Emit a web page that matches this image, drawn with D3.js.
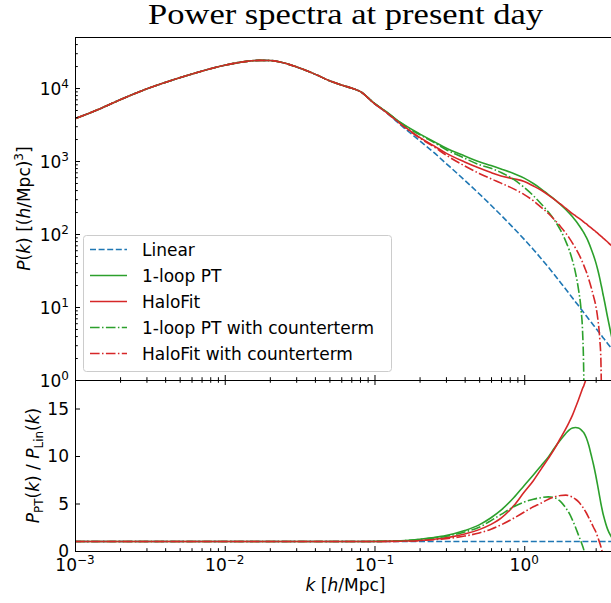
<!DOCTYPE html>
<html>
<head>
<meta charset="utf-8">
<script src="https://cdn.jsdelivr.net/npm/d3@7"></script>
<style>
  body { margin: 0; background: #fff; }
  svg { display: block; font-family: "DejaVu Sans", sans-serif; }
  text { white-space: pre; }
</style>
</head>
<body>
<svg id="drawing_region"></svg>
<script>
// wavenumbers k [h/Mpc]
const kGrid = [0.001, 0.0015, 0.002, 0.003, 0.004, 0.005, 0.007, 0.01, 0.014, 0.017,
    0.02, 0.025, 0.03, 0.04, 0.05, 0.06, 0.07, 0.08, 0.1, 0.12,
    0.15, 0.2, 0.25, 0.3, 0.4, 0.5, 0.6, 0.7, 0.85, 1.0,
    1.15, 1.3, 1.45, 1.6, 1.75, 1.9, 2.0, 2.1, 2.2, 2.3,
    2.4, 2.45, 2.5, 2.55, 2.6, 2.7, 2.8, 2.9, 3.0, 3.1,
    3.2, 3.25, 3.3, 3.35, 3.4, 3.6, 3.8, 4.0];

// linear power spectrum P(k) [(h/Mpc)^3]
const pLinear = [3800, 5300, 6900, 9700, 11900, 13800, 17000, 20500, 23200, 23900,
    23800, 22000, 19500, 15500, 12600, 11000, 10000, 9000, 6100, 4600,
    3100, 1900, 1300, 930, 546, 356, 248, 181, 120.4, 84.5,
    61.5, 45.9, 35.0, 27.2, 21.55, 17.36, 15.15, 13.3, 11.75, 10.45,
    9.33, 8.82, 8.36, 7.93, 7.54, 6.81, 6.18, 5.63, 5.15, 4.72,
    4.34, 4.16, 4.0, 3.83, 3.69, 3.17, 2.75, 2.39];

// P / P_lin for each nonlinear model
const ratioOneLoop = [1, 1, 1, 1, 1, 1, 1, 1, 1, 1,
    1, 1, 1, 1, 1, 1, 1, 1, 1.01, 1.03,
    1.08, 1.24, 1.42, 1.62, 2.15, 2.75, 3.5, 4.3, 5.6, 6.9,
    8.0, 9.0, 9.9, 10.9, 11.7, 12.4, 12.75, 12.95, 13.0, 12.95,
    12.75, 12.6, 12.45, 12.2, 11.9, 11.1, 10.1, 9.1, 8.0, 6.8,
    5.6, 5.0, 4.5, 4.0, 3.6, 2.3, 1.55, 1.1];

const ratioHaloFit = [1, 1, 1, 1, 1, 1, 1, 1, 1, 1,
    1, 1, 1, 1, 1, 1, 1, 1, 1.0, 1.01,
    1.04, 1.11, 1.24, 1.38, 1.78, 2.25, 2.8, 3.45, 4.75, 6.2,
    7.4, 8.65, 9.75, 10.8, 11.9, 12.9, 13.6, 14.3, 15.1, 15.9,
    16.7, 17.1, 17.4, 17.8, 18.2, 18.9, 19.6, 20.3, 21.0, 21.6,
    22.2, 22.5, 22.8, 23.1, 23.4, 24.5, 25.5, 26.4];

const ratioOneLoopCT = [1, 1, 1, 1, 1, 1, 1, 1, 1, 1,
    1, 1, 1, 1, 1, 1, 1, 1, 1.01, 1.02,
    1.07, 1.21, 1.38, 1.55, 2.0, 2.5, 3.2, 3.85, 4.65, 5.15,
    5.45, 5.62, 5.7, 5.6, 5.2, 4.5, 3.95, 3.25, 2.5, 1.7,
    0.95, 0.55, 0.12, -0.4, -1.0, -2.2, -3.5, -5.0, -6.5, -8.0,
    -10, -11, -12, -13, -14, -18, -22, -27];

const ratioHaloFitCT = [1, 1, 1, 1, 1, 1, 1, 1, 1, 1,
    1, 1, 1, 1, 1, 1, 1, 1, 1.0, 1.01,
    1.03, 1.09, 1.2, 1.3, 1.57, 1.9, 2.3, 2.75, 3.45, 4.1,
    4.65, 5.05, 5.45, 5.7, 5.85, 5.88, 5.8, 5.65, 5.45, 5.2,
    4.85, 4.65, 4.45, 4.22, 4.0, 3.5, 3.0, 2.5, 2.05, 1.45,
    0.8, 0.45, 0.05, -0.4, -0.9, -3, -5.5, -8];

const seriesNames = ["Linear", "1-loop PT", "HaloFit", "1-loop PT with counterterm", "HaloFit with counterterm"];
const xTickExps = [-3, -2, -1, 0];
const yTopTickExps = [0, 1, 2, 3, 4];
const yBottomTicks = [0, 5, 10, 15];

const styles = [
    { color: '#1f77b4', dash: '6,2.6' },
    { color: '#2ca02c', dash: null },
    { color: '#d62728', dash: null },
    { color: '#2ca02c', dash: '9.6,2.4,1.5,2.4' },
    { color: '#d62728', dash: '9.6,2.4,1.5,2.4' },
];

const config = { width: 611, height: 603, left: 75, right: 616, top: 37, mid: 380, bottom: 551 };

const svg = d3.select('#drawing_region')
    .attr('width', config.width)
    .attr('height', config.height);

const x = d3.scaleLog().domain([1e-3, 4.1]).range([config.left, config.right]);
const yTop = d3.scaleLog().domain([1, 5e4]).range([config.mid, config.top]);
const yBot = d3.scaleLinear().domain([0, 18]).range([config.bottom, config.mid]);

const ratios = [pLinear.map(p => p / p), ratioOneLoop, ratioHaloFit, ratioOneLoopCT, ratioHaloFitCT];
const series = seriesNames.map((name, s) => ({
    name: name,
    style: styles[s],
    points: kGrid.map((k, i) => ({ k: k, p: pLinear[i] * ratios[s][i], r: ratios[s][i] }))
}));

// clip regions
const defs = svg.append('defs');
defs.append('clipPath').attr('id', 'clipTop').append('rect')
    .attr('x', config.left).attr('y', config.top)
    .attr('width', config.right - config.left).attr('height', config.mid - config.top);
defs.append('clipPath').attr('id', 'clipBot').append('rect')
    .attr('x', config.left).attr('y', config.mid)
    .attr('width', config.right - config.left).attr('height', config.bottom - config.mid);

const lineTop = d3.line()
    .x(d => x(d.k))
    .y(d => yTop(Math.max(d.p, 1e-2)))
    .curve(d3.curveMonotoneX);
const lineBot = d3.line()
    .x(d => x(d.k))
    .y(d => yBot(d.r))
    .curve(d3.curveMonotoneX);

function drawLines(clip, line) {
    svg.append('g').attr('clip-path', `url(#${clip})`)
        .selectAll('path')
        .data(series)
        .enter()
        .append('path')
        .attr('d', d => line(d.points))
        .attr('fill', 'none')
        .attr('stroke', d => d.style.color)
        .attr('stroke-width', 1.6)
        .attr('stroke-dasharray', d => d.style.dash);
}
drawLines('clipTop', lineTop);
drawLines('clipBot', lineBot);

// minor ticks
const xMinor = [];
xTickExps.forEach(e => d3.range(2, 10).forEach(m => {
    const v = m * Math.pow(10, e);
    if (v <= 4.1) xMinor.push(v);
}));
const yMinor = [];
yTopTickExps.forEach(e => d3.range(2, 10).forEach(m => {
    const v = m * Math.pow(10, e);
    if (v <= 5e4) yMinor.push(v);
}));
const xMajor = xTickExps.map(e => Math.pow(10, e));
const yMajor = yTopTickExps.map(e => Math.pow(10, e));

function axisGroup(axis, tx, ty) {
    const g = svg.append('g')
        .attr('transform', `translate(${tx},${ty})`)
        .call(axis);
    g.selectAll('text').remove();
    g.selectAll('line').attr('stroke', '#000');
    g.select('.domain').attr('stroke', '#000');
    return g;
}

// top panel axes
axisGroup(d3.axisBottom(x).tickValues(xMajor).tickSizeInner(-5).tickSizeOuter(0).tickFormat(''), 0, config.mid);
axisGroup(d3.axisBottom(x).tickValues(xMinor).tickSizeInner(-2.8).tickSizeOuter(0).tickFormat(''), 0, config.mid);
axisGroup(d3.axisLeft(yTop).tickValues(yMajor).tickSizeInner(-5).tickSizeOuter(0).tickFormat(''), config.left, 0);
axisGroup(d3.axisLeft(yTop).tickValues(yMinor).tickSizeInner(-2.8).tickSizeOuter(0).tickFormat(''), config.left, 0);
svg.append('line')
    .attr('x1', config.left).attr('x2', config.right)
    .attr('y1', config.top + 0.5).attr('y2', config.top + 0.5)
    .attr('stroke', '#000');

// bottom panel axes
axisGroup(d3.axisTop(x).tickValues(xMajor).tickSizeInner(-5).tickSizeOuter(0).tickFormat(''), 0, config.mid);
axisGroup(d3.axisTop(x).tickValues(xMinor).tickSizeInner(-2.8).tickSizeOuter(0).tickFormat(''), 0, config.mid);
axisGroup(d3.axisBottom(x).tickValues(xMajor).tickSizeInner(-5).tickSizeOuter(0).tickFormat(''), 0, config.bottom);
axisGroup(d3.axisBottom(x).tickValues(xMinor).tickSizeInner(-2.8).tickSizeOuter(0).tickFormat(''), 0, config.bottom);
axisGroup(d3.axisLeft(yBot).tickValues(yBottomTicks).tickSizeInner(-5).tickSizeOuter(0).tickFormat(''), config.left, 0);

// tick labels
function powLabel(xPos, yPos, exp, anchor) {
    const t = svg.append('text')
        .attr('x', xPos).attr('y', yPos)
        .attr('text-anchor', anchor)
        .attr('font-size', 17);
    t.append('tspan').text('10');
    t.append('tspan').attr('dy', -7).attr('font-size', 12)
        .text(exp < 0 ? '\u2212' + (-exp) : String(exp));
}
yTopTickExps.forEach(e => powLabel(config.left - 6, yTop(Math.pow(10, e)) + 7, e, 'end'));
xTickExps.forEach(e => powLabel(x(Math.pow(10, e)), 571, e, 'middle'));
svg.selectAll('.ybot')
    .data(yBottomTicks)
    .enter()
    .append('text')
    .attr('x', config.left - 6)
    .attr('y', d => yBot(d) + 6)
    .attr('text-anchor', 'end')
    .attr('font-size', 17)
    .text(d => d);

// axis labels
function richText(sel, parts) {
    parts.forEach(p => {
        const ts = sel.append('tspan').text(p.t);
        if (p.i) ts.attr('font-style', 'italic');
        if (p.size) ts.attr('font-size', p.size);
        if (p.dy) ts.attr('dy', p.dy);
    });
}

richText(svg.append('text')
    .attr('transform', `translate(30,${(config.top + config.mid) / 2}) rotate(-90)`)
    .attr('text-anchor', 'middle').attr('font-size', 17),
    [{ t: 'P', i: true }, { t: '(' }, { t: 'k', i: true }, { t: ') [(' }, { t: 'h', i: true },
     { t: '/Mpc)' }, { t: '3', size: 12, dy: -7 }, { t: ']', dy: 7 }]);

richText(svg.append('text')
    .attr('transform', `translate(39,${(config.mid + config.bottom) / 2}) rotate(-90)`)
    .attr('text-anchor', 'middle').attr('font-size', 17),
    [{ t: 'P', i: true }, { t: 'PT', size: 12, dy: 4 }, { t: '(', dy: -4 }, { t: 'k', i: true },
     { t: ') / ' }, { t: 'P', i: true }, { t: 'Lin', size: 12, dy: 4 }, { t: '(', dy: -4 },
     { t: 'k', i: true }, { t: ')' }]);

richText(svg.append('text')
    .attr('x', (config.left + config.right) / 2).attr('y', 591)
    .attr('text-anchor', 'middle').attr('font-size', 17),
    [{ t: 'k', i: true }, { t: ' [' }, { t: 'h', i: true }, { t: '/Mpc]' }]);

// title
svg.append('text')
    .attr('x', (config.left + config.right) / 2)
    .attr('y', 24)
    .attr('text-anchor', 'middle')
    .attr('font-family', '"Liberation Serif", serif')
    .attr('font-size', 29)
    .attr('textLength', 395)
    .attr('lengthAdjust', 'spacingAndGlyphs')
    .text('Power spectra at present day');

// legend
const legend = svg.append('g');
legend.append('rect')
    .attr('x', 83.5).attr('y', 235.5)
    .attr('width', 308).attr('height', 136)
    .attr('rx', 3)
    .attr('fill', '#fff').attr('fill-opacity', 0.8)
    .attr('stroke', '#cccccc');
const rows = legend.selectAll('.row')
    .data(series)
    .enter()
    .append('g')
    .attr('transform', (d, i) => `translate(0,${249.5 + 26 * i})`);
rows.append('line')
    .attr('x1', 90).attr('x2', 127)
    .attr('stroke', d => d.style.color)
    .attr('stroke-width', 1.6)
    .attr('stroke-dasharray', d => d.style.dash);
rows.append('text')
    .attr('x', 142).attr('y', 6)
    .attr('font-size', 17)
    .text(d => d.name);
</script>
</body>
</html>
